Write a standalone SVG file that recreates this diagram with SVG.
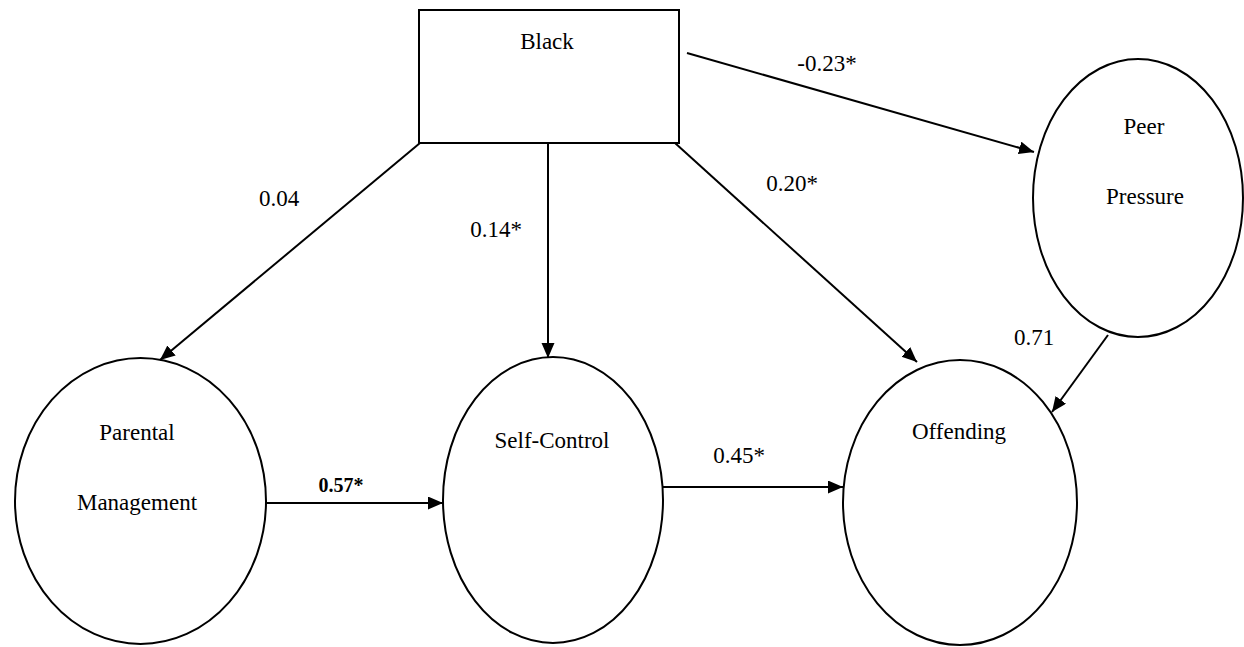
<svg xmlns="http://www.w3.org/2000/svg" width="1244" height="647" viewBox="0 0 1244 647">
<style>
.node{fill:#fff;stroke:#000;stroke-width:2}
.edge{stroke:#000;stroke-width:2;fill:none;marker-end:url(#ah)}
</style>
<defs>
<marker id="ah" markerUnits="userSpaceOnUse" markerWidth="16" markerHeight="14" refX="15" refY="6.5" orient="auto">
<path d="M0,0 L15,6.5 L0,13 Z" fill="#000"/>
</marker>
</defs>
<rect width="1244" height="647" fill="#fff"/>
<g font-family="Liberation Serif" font-size="23" text-anchor="middle" fill="#000">
<g id="black">
<rect class="node" x="419" y="10" width="260" height="133" stroke-width="2.5"/>
<text x="547" y="49">Black</text>
</g>
<g id="parental">
<ellipse class="node" cx="140.5" cy="501" rx="125.5" ry="143"/>
<text x="137" y="440">Parental</text>
<text x="137" y="510">Management</text>
</g>
<g id="selfcontrol">
<ellipse class="node" cx="553" cy="500" rx="110" ry="143"/>
<text x="552" y="448">Self-Control</text>
</g>
<g id="offending">
<ellipse class="node" cx="960" cy="502.5" rx="117" ry="142.5"/>
<text x="959" y="439">Offending</text>
</g>
<g id="peer">
<ellipse class="node" cx="1138" cy="198" rx="105" ry="139"/>
<text x="1144" y="134">Peer</text>
<text x="1145" y="204">Pressure</text>
</g>
<g id="connectors">
<line class="edge" x1="687" y1="53" x2="1034" y2="152"/>
<line class="edge" x1="420" y1="143" x2="160" y2="360"/>
<line class="edge" x1="548" y1="143" x2="548" y2="358"/>
<line class="edge" x1="675" y1="143" x2="917" y2="362"/>
<line class="edge" x1="1108" y1="335" x2="1052" y2="412"/>
<line class="edge" x1="266" y1="503" x2="443" y2="503"/>
<line class="edge" x1="663" y1="487" x2="843" y2="487"/>
<text x="827" y="71">-0.23*</text>
<text x="279" y="206">0.04</text>
<text x="496" y="237">0.14*</text>
<text x="792" y="191">0.20*</text>
<text x="1034" y="345">0.71</text>
<text x="341" y="492" font-size="20" font-weight="bold">0.57*</text>
<text x="739" y="463">0.45*</text>
</g>
</g>
</svg>
